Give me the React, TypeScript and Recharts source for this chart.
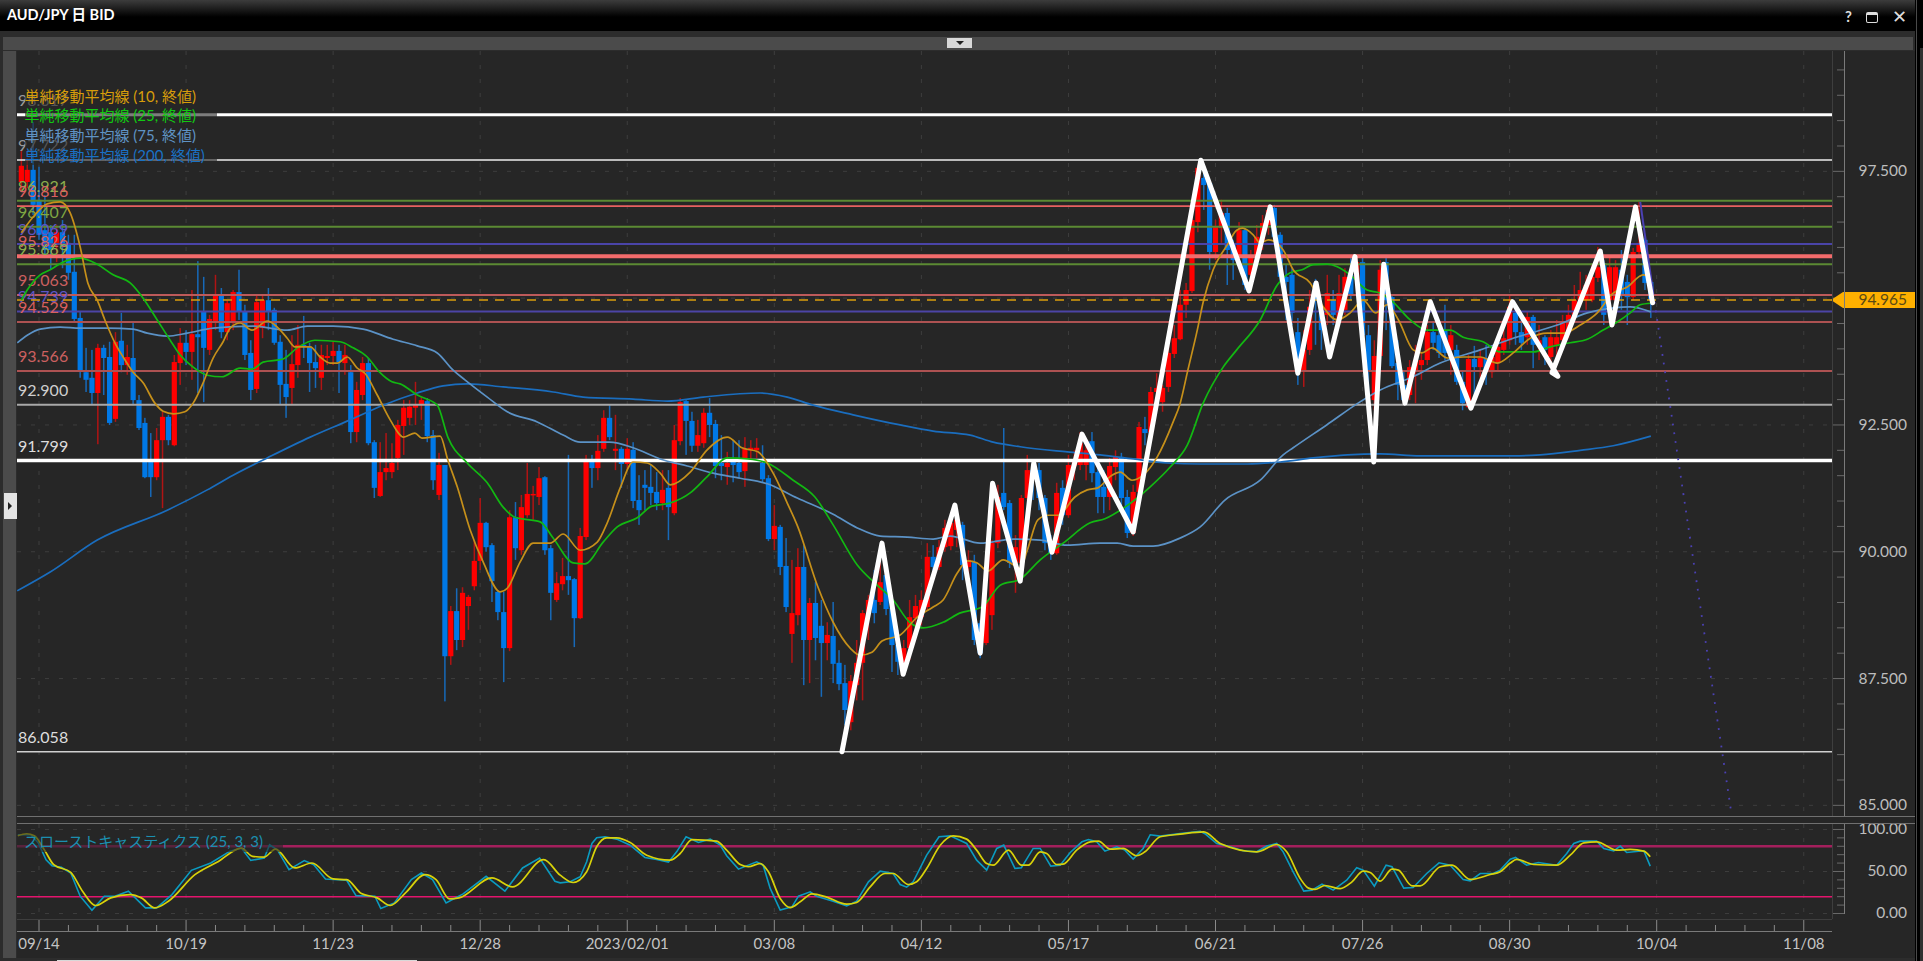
import {
  Bar,
  CartesianGrid,
  ComposedChart,
  Line,
  ReferenceLine,
  XAxis,
  YAxis,
} from 'recharts'

const lastPrice = 94.965

const opens = [
  97.29,97.29,97.53,96.94,96.34,96.30,96.09,96.30,96.09,95.52,
  94.61,93.54,93.43,93.13,94.02,93.84,92.62,94.16,93.68,93.82,
  92.99,92.54,91.81,91.47,92.20,92.66,92.10,93.72,94.12,93.94,
  94.29,94.73,93.98,94.53,95.06,94.33,94.53,95.12,94.73,93.92,
  93.21,94.41,94.96,94.77,94.14,93.31,93.23,93.68,94.08,94.04,
  93.74,93.43,93.82,93.86,93.96,93.72,93.54,92.36,93.09,93.72,
  92.16,91.10,91.57,91.57,91.85,92.48,92.64,92.84,92.91,92.97,
  92.30,91.12,91.71,87.94,88.83,88.26,88.93,89.32,89.82,90.57,
  90.13,89.21,88.81,88.10,90.68,90.03,90.72,91.12,91.08,91.47,
  90.07,89.05,89.36,89.52,89.46,88.69,90.29,91.77,91.65,92.03,
  92.64,91.99,92.03,91.73,92.01,91.02,91.32,91.28,91.18,90.96,
  91.26,90.76,92.18,92.97,92.58,92.09,92.14,92.74,92.52,91.75,
  91.67,91.77,91.75,91.59,92.00,92.00,91.75,91.45,90.25,90.49,
  89.72,88.38,88.75,89.70,88.26,88.99,88.54,88.20,88.34,87.81,
  87.41,86.64,87.37,87.81,88.79,89.05,89.01,89.54,88.89,88.16,
  87.81,88.10,88.69,88.71,88.91,89.90,89.70,90.09,90.11,90.43,
  90.53,89.70,89.80,88.59,88.20,88.75,90.17,91.16,90.96,89.78,
  89.78,91.06,91.61,91.61,91.06,90.17,89.97,91.26,90.72,91.69,
  91.71,91.71,92.18,91.57,91.28,91.08,91.67,91.87,91.08,90.37,
  91.18,92.42,92.36,93.15,92.95,93.25,93.90,94.19,94.87,95.14,
  96.50,97.37,97.27,95.91,96.38,96.68,96.09,95.81,96.34,95.46,
  95.81,96.15,96.44,96.78,96.25,95.42,95.46,94.33,93.58,93.98,
  95.30,94.71,94.67,94.96,94.57,94.77,95.46,95.36,95.71,94.27,
  92.99,93.86,95.71,95.02,93.72,93.29,93.09,93.58,93.68,93.78,
  94.33,94.27,94.37,93.98,93.98,93.35,92.85,93.80,93.64,93.82,
  93.54,93.72,93.98,94.17,94.71,94.33,94.23,94.63,94.08,94.23,
  93.84,94.08,94.17,94.33,94.67,94.96,94.96,94.96,95.40,95.69,
  94.96,94.96,95.56,95.32,95.02,95.91,96.15,95.32,
]
const closes = [
  97.61,97.53,96.84,96.25,95.95,95.95,96.30,96.01,95.50,94.59,
  93.58,93.39,93.13,94.02,93.82,92.54,94.14,93.68,93.84,92.99,
  92.44,91.47,91.47,92.20,92.66,92.20,93.74,94.12,93.94,94.29,
  94.23,94.02,94.59,95.06,94.33,94.90,95.12,94.73,93.88,93.19,
  94.92,94.96,94.73,94.12,93.29,93.05,93.70,94.08,94.04,93.72,
  93.62,93.88,93.86,93.96,93.74,93.88,92.36,93.19,93.72,92.14,
  91.26,91.57,91.65,91.75,92.50,92.84,92.86,92.91,92.99,92.28,
  91.41,91.71,87.94,88.83,88.26,89.19,89.11,89.82,90.57,90.09,
  89.42,88.81,88.10,90.68,90.07,90.88,91.14,91.14,91.45,90.03,
  89.19,89.38,89.52,89.44,88.69,90.31,91.77,91.65,91.99,92.64,
  92.26,92.03,91.73,92.03,91.00,90.82,91.26,91.16,90.96,91.22,
  90.88,92.20,92.95,92.58,92.09,92.30,92.74,92.50,91.69,91.69,
  91.75,91.71,91.57,92.03,92.05,92.05,91.43,90.25,90.51,89.70,
  88.91,88.79,89.70,88.26,88.99,88.30,88.20,88.36,87.79,87.39,
  86.88,87.45,87.81,88.79,89.05,88.79,89.40,88.87,88.16,87.83,
  88.10,88.71,88.93,89.05,89.90,89.70,90.09,90.47,90.57,90.63,
  89.74,89.84,88.26,88.00,89.05,90.17,91.08,90.88,89.78,90.09,
  91.06,91.61,91.51,91.06,90.17,89.97,91.16,90.72,91.71,91.81,
  92.14,92.00,91.55,91.08,91.08,91.69,91.87,91.06,90.37,91.18,
  92.46,92.34,93.15,93.23,93.23,93.92,94.21,94.87,95.16,96.54,
  97.57,97.23,95.91,96.40,96.68,95.95,95.75,96.34,95.26,95.81,
  96.21,96.48,96.74,96.21,95.42,95.32,94.71,93.64,93.98,94.83,
  94.96,94.37,95.10,94.67,95.10,95.42,95.06,95.71,94.27,93.58,
  93.86,95.56,94.96,93.66,93.29,92.99,93.64,93.78,93.78,94.33,
  94.12,93.92,93.92,94.27,93.35,92.93,93.80,93.64,93.82,93.58,
  93.84,94.04,94.21,94.83,94.33,94.12,94.63,94.08,94.17,93.98,
  94.23,94.23,94.51,94.67,94.96,95.16,95.26,95.42,95.61,94.67,
  95.61,95.61,95.06,95.02,95.91,96.09,95.30,94.965,
]
const highs = [
  97.92,97.76,98.47,97.59,97.03,96.44,96.44,96.54,96.25,96.25,
  94.73,94.02,93.98,94.10,94.08,94.14,94.33,94.71,94.08,94.51,
  93.09,92.64,92.34,92.44,92.76,92.70,93.88,94.41,94.37,95.16,
  95.73,95.42,94.67,95.46,95.20,94.96,95.16,95.56,94.87,94.17,
  95.06,95.06,95.20,94.81,94.27,93.98,94.27,94.47,94.65,94.12,
  94.08,94.08,94.08,94.14,94.08,94.08,93.68,93.35,93.84,93.82,
  92.20,92.16,92.34,92.14,92.60,92.99,92.99,93.35,93.05,93.03,
  92.40,91.95,91.71,88.93,89.28,89.30,89.15,90.23,91.06,90.59,
  90.17,89.24,89.21,90.82,90.98,91.12,91.75,91.30,91.67,91.49,
  90.13,89.60,89.88,91.91,89.48,90.47,91.91,91.91,92.30,92.79,
  92.89,92.70,92.07,92.24,92.16,91.51,91.61,91.71,91.57,91.61,
  91.61,92.50,93.03,92.99,92.76,92.60,92.83,93.03,92.60,92.30,
  91.97,92.20,92.20,92.26,92.20,92.24,92.10,91.51,90.92,90.53,
  90.27,89.84,90.07,90.13,89.09,89.40,89.05,88.61,89.01,88.06,
  87.77,87.57,88.26,88.85,89.15,89.64,89.84,89.84,88.95,88.46,
  88.26,89.05,89.15,89.24,90.17,90.13,90.23,90.63,90.78,90.82,
  90.59,90.03,89.94,88.65,89.15,90.23,91.32,92.44,91.02,90.33,
  91.12,91.91,91.81,91.75,91.12,90.33,91.36,91.41,91.91,92.00,
  92.36,92.20,92.36,91.71,91.61,91.85,92.00,91.95,91.22,91.32,
  92.56,92.66,93.25,93.52,93.29,94.08,94.47,95.16,95.30,96.64,
  97.63,97.63,97.33,96.54,96.94,96.78,96.15,96.50,96.38,95.95,
  96.44,96.64,96.84,96.84,96.30,95.66,95.59,94.61,94.37,95.16,
  95.38,94.77,95.46,95.16,95.46,95.59,95.79,95.83,95.79,94.47,
  94.17,95.75,95.79,95.06,94.17,93.58,93.78,94.08,93.94,94.47,
  94.53,94.57,94.87,94.47,94.08,93.58,93.88,94.06,93.98,94.08,
  93.98,94.17,94.37,95.06,94.87,94.57,94.73,94.67,94.47,94.27,
  94.37,94.57,94.67,94.87,95.26,95.52,95.46,95.66,96.01,95.75,
  95.85,95.75,95.95,95.46,95.99,96.90,96.19,95.36,
]
const lows = [
  97.13,97.17,96.64,96.15,95.79,95.56,95.71,95.59,95.36,94.53,
  93.43,93.15,92.91,92.12,93.09,92.50,92.56,93.54,93.49,92.89,
  92.40,91.45,91.08,91.41,90.86,92.10,92.08,93.29,93.68,93.39,
  93.13,92.95,93.88,94.37,94.21,94.17,94.37,94.57,93.78,92.99,
  93.13,94.21,94.37,94.08,92.91,92.64,92.91,93.43,93.82,93.15,
  93.23,93.19,93.68,93.68,93.13,93.49,92.14,92.16,92.99,92.10,
  91.06,91.08,91.41,91.45,91.61,91.91,92.50,92.50,92.60,92.16,
  91.22,91.02,87.05,87.77,88.06,88.12,88.46,89.24,89.64,90.00,
  89.01,88.65,87.43,88.04,89.84,89.94,90.67,90.63,90.92,89.94,
  88.65,89.01,89.24,89.15,88.12,88.67,90.23,91.26,91.41,91.97,
  92.20,91.61,91.26,91.61,90.86,90.53,90.82,90.92,90.82,90.82,
  90.23,90.72,92.10,91.91,91.97,91.97,92.05,92.26,91.45,91.41,
  91.32,91.37,91.45,91.28,91.81,91.85,91.37,90.21,90.03,89.54,
  88.81,87.81,88.55,87.37,87.41,87.86,87.14,87.86,87.41,87.27,
  86.58,86.48,87.07,87.07,88.26,88.59,88.95,88.75,87.63,87.57,
  87.63,87.86,88.46,88.55,88.85,89.54,89.64,90.00,90.03,90.09,
  89.44,89.44,88.16,87.90,88.16,88.46,90.07,90.82,89.68,89.19,
  89.74,91.02,91.02,90.82,90.03,89.84,89.94,90.53,90.67,91.41,
  91.61,91.41,91.37,90.76,90.76,90.82,91.41,90.92,90.27,90.31,
  91.12,92.10,92.30,92.99,92.76,93.15,93.82,94.17,94.61,95.10,
  96.30,96.74,95.56,95.75,96.09,95.26,95.36,95.75,95.16,95.30,
  95.75,95.95,96.25,96.15,95.32,94.57,94.47,93.29,93.25,93.88,
  94.08,93.98,94.47,94.47,94.53,94.67,94.96,95.06,94.21,92.99,
  92.79,93.78,94.37,93.62,92.99,92.95,92.99,92.93,93.39,93.68,
  93.98,93.82,93.78,93.49,93.29,92.79,92.83,93.09,93.43,93.29,
  93.43,93.58,93.88,94.08,94.08,93.98,94.08,93.62,93.78,93.68,
  93.68,93.74,94.08,94.21,94.57,94.87,94.77,94.92,95.32,94.47,
  94.87,94.90,94.77,94.47,94.96,95.85,95.16,94.61,
]

const ma10Bars = [
  0,2,4.4,6.6,8.3,10,11.3,12.9,14.2,15.9,17.3,19,20.7,22.7,24.1,25.9,27.8,29.2,30.9,32.6,34.3,35.5,37.2,39.2,41.8,43.5,
  45.2,46.5,49.1,50.8,52.5,53.7,55.4,57.1,58.4,60.5,62.7,65,66.9,68.1,71.2,72.5,74.1,76.3,78.5,81.4,82.6,84.8,87,89.9,
  92.1,95,97.9,99.6,101.8,104,106.4,108.6,110.3,113.7,116.5,120,122.5,125.2,127.8,130.2,132,135.3,138,140.9,142.6,144.6,
  146.3,149.4,152.3,155,156.7,159.1,160.9,162.5,164.3,166.9,169.8,171,172.8,174.5,176.2,179.1,181.2,183,185.4,186.8,
  188.8,190.7,193.1,195.8,197,198.3,199.9,200.9,202.6,205,206.6,207.6,209.4,210.6,212,214.5,216.2,219.1,221.3,223.7,
  225.9,228.1,230.2,232.2,234.1,236.6,238.1,239.8,242.4,245.1,248,250.9,253.6,256.5,259.4,262.1,265,267.9,270.6,273,275.7,277,
]
const ma10 = [
  96.29,96.60,96.86,96.90,96.68,96.01,95.30,94.96,94.57,94.12,93.84,93.54,93.33,92.93,92.77,92.72,92.76,92.93,93.33,93.82,94.14,94.41,94.51,94.37,94.55,94.43,
  94.21,94.04,94.04,93.84,93.72,93.72,93.84,93.62,93.52,93.09,92.60,92.26,92.34,92.24,92.28,91.81,91.28,90.43,89.80,89.21,89.28,89.80,90.17,90.17,
  90.35,90.03,90.19,90.57,91.26,91.77,91.75,91.55,91.32,91.57,92.00,92.26,92.05,91.97,91.55,90.96,90.49,89.34,88.61,88.10,87.96,88.02,
  88.24,88.36,88.71,88.91,89.05,89.58,89.82,89.78,89.62,89.84,89.68,90.03,90.63,90.72,90.72,91.08,91.22,91.26,91.51,91.57,
  91.41,91.51,91.87,92.56,92.93,93.58,94.37,94.92,95.56,96.05,96.34,96.38,96.25,96.09,96.15,95.95,95.56,95.30,94.83,94.57,
  94.71,94.96,94.71,94.87,94.57,93.98,93.92,94.02,93.82,93.84,93.84,93.72,93.92,94.21,94.31,94.31,94.47,94.71,95.10,95.22,95.46,95.42,
]
const ma25Bars = [
  0,1,3.2,4.9,7.1,10,12.9,15.6,18.5,20.7,23.1,25.3,27,29.2,31.6,34.1,37.2,39.2,41.1,44.5,46.9,49.9,54.2,56.4,58.8,60.9,63,
  64.4,67.3,70.7,72.5,75.8,79.2,81.9,83.9,88.2,90.4,93.8,95.8,98.9,101.3,104.7,107.2,110.3,113.7,116.5,120,123.5,126.8,131.2,
  134.9,138,142.1,145.1,148.2,151,153.3,156.7,159.5,163.3,166.4,169.8,173.2,177.1,181.7,184.2,187.6,191.9,195.3,198.2,200.9,
  204.3,206.6,210.6,213.5,215.7,217.7,219.6,222,223.7,225.9,228.8,231,233.2,236.1,239,242.9,245.1,248.5,251.4,254.3,257,
  259.9,263.3,266.2,268.9,271.3,273.5,275.2,277,
]
const ma25 = [
  94.96,95.16,95.46,95.56,95.71,95.79,95.67,95.46,95.30,95.00,94.57,94.17,93.88,93.64,93.48,93.45,93.62,93.60,93.74,93.80,94.02,94.17,94.14,94.02,93.84,93.54,93.35,
  93.31,93.09,92.89,92.26,91.75,91.36,90.88,90.68,90.59,90.27,89.78,89.76,90.19,90.49,90.67,90.90,90.96,91.16,91.47,91.85,91.83,91.75,91.41,
  91.08,90.53,89.74,89.38,89.05,88.61,88.50,88.61,88.79,88.91,89.34,89.46,89.84,90.17,90.57,90.65,90.88,91.28,91.67,92.10,92.93,
  93.64,93.98,94.57,95.26,95.50,95.56,95.66,95.67,95.62,95.46,95.16,95.10,94.92,94.57,94.37,94.37,94.23,94.14,93.94,93.94,93.94,
  94.04,94.12,94.19,94.37,94.53,94.71,94.87,94.90,
]
const ma75Bars = [
  -0.7,1,3.2,6.6,10,14.6,19,21.4,24.8,28.2,32.6,39.4,45.2,48.6,53,58.1,63.2,67.3,70.7,73.4,75.4,79.2,82.6,87.7,92.1,95,100,104,
  108.6,113.2,117.6,122.2,126.8,131.9,138,142.1,146,150.6,155,157.9,163,168.6,173.2,177.8,183.4,186.3,189,192.4,197,200.4,204.6,
  210.6,214.5,216.2,221.9,227.5,231,236.6,241.2,248,253.6,261.1,266.2,270.6,273.5,277,
]
const ma75 = [
  94.12,94.27,94.39,94.43,94.41,94.41,94.39,94.31,94.25,94.31,94.41,94.45,94.37,94.45,94.45,94.39,94.19,94.06,93.92,93.58,93.39,93.05,92.76,92.56,92.30,92.16,92.16,92.05,
  91.83,91.69,91.55,91.45,91.34,91.06,90.74,90.47,90.31,90.29,90.25,90.31,90.17,90.25,90.23,90.13,90.17,90.17,90.11,90.11,90.27,90.49,91.02,
  91.41,91.91,92.05,92.50,92.95,93.19,93.45,93.72,93.98,94.21,94.47,94.71,94.81,94.83,94.73,
]
const ma200Bars = [
  -0.7,4.9,12.9,24.8,31.6,36,41.8,49.1,55.9,61.5,67.3,71.7,75.8,81.9,90.4,95.5,104,109.8,115.9,125.6,130.2,134.6,141.4,149.4,155,161.3,
  165.2,169.8,177.8,183.4,189,194.8,200.4,208.4,214,219.6,225.4,231,237.8,253.6,258.2,265,270.6,277,
]
const ma200 = [
  89.23,89.60,90.23,90.82,91.22,91.51,91.85,92.26,92.60,92.89,93.13,93.27,93.31,93.25,93.15,93.05,93.01,92.97,93.05,93.13,93.05,92.89,92.70,92.50,92.38,92.30,
  92.16,92.07,91.97,91.91,91.83,91.75,91.73,91.73,91.77,91.85,91.91,91.93,91.89,91.89,91.91,92.00,92.09,92.28,
]

const zigzagBars = [
  139.5,146.3,149.9,158.7,163,165.1,169.8,172.1,175.2,180.3,189,200.5,208.7,212.3,217,220.1,222.4,226.7,229.9,231.6,235.2,239.5,246.4,253.5,261.2,260.2,268.4,270.4,274.4,277.3,
]
const zigzag = [
  86.058,90.17,87.585,90.92,88,91.35,89.42,91.75,89.99,92.32,90.39,97.72,95.145,96.8,93.52,95.3,93.84,95.82,91.77,95.67,92.93,94.93,92.83,94.93,93.46,93.53,95.93,94.47,96.8,94.91,
]
const trendBars = [275.2, 277.4]
const trend = [96.9, 95.1]
const forecastBars = [277.4, 290.6]
const forecast = [95.1, 84.92]

const stochKBars = [
  -0.6,1.6,2.9,4.2,5.2,6.8,8.4,10,12,14.1,15.9,18.2,21.1,23,25.6,28.9,32.2,35.4,37.4,39,41.3,42.2,43.5,45.5,48.1,49.7,51.7,55.3,56.9,60.1,61.1,63.4,66.3,68,69.9,72.2,75.1,79,82.2,85.2,88.1,90.7,
  91.6,93.3,95,96.1,97,97.8,99.2,101.2,103.5,106,108,110,111.4,113,115.1,117.1,118.8,119.9,121.9,125,126.1,127.3,129,131,132.1,134.1,135.2,138,140.3,142,144,146,148.2,149.4,150.5,151.6,153.9,156,157.9,160.7,162.4,164.1,165.8,167,168.9,170,172,173.2,175,
  176.6,178.3,180.3,181.4,182.8,184.2,186.2,187.6,189,190.7,191.9,193.6,197,200.4,201.2,203.2,205.5,207.7,210,211.7,213.4,214.5,216.2,218,219.4,221.1,223,225.3,227,228.1,230,232,233,235,236.6,238.9,241,242.9,245.1,246.3,248,250.2,251.4,
  253.1,254,255.9,257.9,261,262.7,263.9,265,267.8,269,270.7,271.8,272.9,275.8,276.9,
]
const stochK = [
  93.7,93.7,83.8,64,56.9,55,48.2,20.6,3.95,20.6,20.6,26.5,6.7,6.7,22.5,51.4,60.1,73.9,77.9,63.2,66,81.8,75.9,52.2,62.9,58.1,41.1,39.5,21.3,20.6,5.9,12.6,40.3,48.2,40.3,12.6,23.3,44.3,26.5,54.2,66,38.3,
  36.5,37.7,43.7,61.5,83.3,90.1,91.3,88.5,81.3,66.7,64.3,61.1,73.4,91.3,84.5,88.5,81.3,68.7,52.8,61.5,57.5,29.8,4,7.9,20.6,25.8,20.6,14.7,9.1,14.7,37.7,50.4,47.6,34.5,31.3,37.7,69.4,91.3,92.4,83.3,63.5,51.6,77.4,81.3,53.6,54.4,77.4,77.4,56.4,
  57.5,72.6,85.3,88,85.3,74.2,79.4,75.4,64.7,77.4,93.7,92.1,95,97.8,95,83.3,79.4,74.6,73.4,80.2,83.3,73.4,49.6,26.6,27.8,34.9,27.8,39.7,54.4,51.6,32.5,57.5,55.6,30.2,31,47.6,60.3,57.5,40.5,38.9,47.6,47.6,51.6,
  64.7,66.7,57.5,60.7,57.5,71.4,83.3,86.1,86.1,77.4,74.6,80.2,72.6,74.6,56.4,
]
const stochDBars = [
  -0.6,0.9,2.2,3.9,5.5,8.4,10.4,12.6,15.2,18.5,20.4,22.7,25,29.5,33.5,37.4,39.3,41.3,43.2,46.5,49.4,53,55.3,57.8,60.5,62.7,65.3,68.6,70.5,72.8,74.4,80,83.5,88.8,
  91.6,93.8,96.1,97.8,99.5,101.2,103.5,106.3,110.3,112,114,118.2,119.9,122.2,123.6,125.6,127,129,130.7,132.4,134.4,136.9,140.3,142,144.3,146.8,148.2,150.8,152.2,153.9,156.2,158.4,160.7,162.4,164.1,165.2,167.8,170,171.2,173.2,174.3,176,
  177.1,179.4,181.7,183.1,185.1,187.3,189.6,191,193.6,197,201,203.8,210,213.4,215.1,217.4,218.8,219.9,221.6,224.2,226.2,228.1,229.3,231,233,234.1,236.4,237.8,241.2,243.2,246.3,249.7,251.4,
  253.1,254.2,257.1,261,263.3,265.6,267.8,271.2,273.5,275.8,276.9,
]
const stochD = [
  92.5,94.9,92.5,75.9,58.1,49,26.5,9.5,18.6,22.5,18.6,6.7,14.6,46.2,62,77.9,68,67.2,76.7,54.2,60.1,41.1,40.3,23.7,18.6,9.5,24.5,46.2,40.3,17.4,18.6,42.3,31.6,64,
  45.6,36.9,49.6,79.4,90.1,90.1,84.5,69.4,63.5,71.4,88,86.1,75.4,58.3,55.6,59.5,49.6,17.9,7.1,13.9,23.4,19.4,11.1,13.1,31.7,47.6,47.6,34.5,37.7,53.6,81.3,92.4,88.5,75.4,59.5,57.5,75.4,57.5,57.5,73.4,71.4,58.3,
  58.7,75.4,85.3,86.1,76.6,77.4,68.7,73.4,91.3,94.4,97.2,83.3,73.4,82.1,73.4,41.7,30.2,28.6,33.3,29.6,37.7,50.4,48.8,38.5,52.8,51.6,32.9,32.9,55.6,57.5,40.5,46.4,49.6,
  60,64.3,58.3,57.5,69.4,84.1,85.3,75.4,76.2,74.2,67.5,
]

const levels = [98.617, 97.722, 96.921, 96.816, 96.407, 96.069, 95.826, 95.669, 95.063, 94.739, 94.529, 93.566, 92.9, 91.799, 86.058]
const levelColors = ['#ffffff', '#eeeeee', '#5b8a33', '#e86060', '#5b8a33', '#4a44a8', '#f46c6c', '#5b8a33', '#bd5a5a', '#4c44a6', '#ad5252', '#ad5252', '#a8a8a8', '#ffffff', '#d0d0d0']
const levelLabelColors = ['#9a9a9a', '#9a9a9a', '#8caf4c', '#d9605f', '#7fa843', '#5e55c8', '#d9605f', '#8caf4c', '#cc6060', '#5e55c8', '#d9605f', '#cc6060', '#cfcfcf', '#dddddd', '#dddddd']
const levelWidths = [3, 1.5, 2, 1.8, 2, 2, 4, 2, 2, 2, 2, 2, 2, 3.5, 1.5]

const dateTicks = ['09/14', '10/19', '11/23', '12/28', '2023/02/01', '03/08', '04/12', '05/17', '06/21', '07/26', '08/30', '10/04', '11/08']
const legendRows = ['単純移動平均線 (10, 終値)', '単純移動平均線 (25, 終値)', '単純移動平均線 (75, 終値)', '単純移動平均線 (200, 終値)']
const legendColors = ['#d79d0a', '#12c812', '#5f93c4', '#1a71c4']

const priceTicks = [85, 85.5, 86, 86.5, 87, 87.5, 88, 88.5, 89, 89.5, 90, 90.5, 91, 91.5, 92, 92.5, 93, 93.5, 94, 94.5, 95, 95.5, 96, 96.5, 97, 97.5, 98, 98.5, 99, 99.5]
const priceLabels = [85, 87.5, 90, 92.5, 95, 97.5]
const stochTicks = [0, 10, 20, 30, 40, 50, 60, 70, 80, 90, 100]
const stochLabels = [0, 50, 100]
const barTicks = Array.from({ length: 61 }, (_, i) => 3 + i * 5)

const FONT = 'Lato, "Noto Sans CJK JP", sans-serif'
const BG = '#262626'
const BAR_DOMAIN: [number, number] = [-0.74, 307.8]
const PLOT_W = 1815
const BODY_W = 5.2

const candles = opens.map((open, i) => ({
  bar: i,
  open,
  close: closes[i],
  high: highs[i],
  low: lows[i],
  range: [lows[i], highs[i]],
}))

const points = (bars: number[], values: number[]) => bars.map((bar, i) => ({ bar, value: values[i] }))

const majorBars = dateTicks.map((_, i) => 3 + i * 25)

function Candle(props: any) {
  const { x, y, width, height, payload } = props
  const { open, close, high, low } = payload
  const up = close >= open
  const perUnit = height / (high - low || 1)
  const top = y + (high - Math.max(open, close)) * perUnit
  const bodyH = Math.max(Math.abs(close - open) * perUnit, 1.5)
  const cx = x + width / 2
  return (
    <g>
      <rect x={cx - 0.75} y={y} width={1.5} height={height} fill={up ? '#b01414' : '#1769b8'} />
      <rect x={cx - BODY_W / 2} y={top} width={BODY_W} height={bodyH} fill={up ? '#ff0000' : '#0078e6'} />
    </g>
  )
}

function LevelLabel(props: any) {
  const { viewBox, value, fill } = props
  return (
    <text x={viewBox.x + 1} y={viewBox.y - 9} fontFamily={FONT} fontSize={16} fill={fill}>{value}</text>
  )
}

function PriceTick(props: any) {
  const { y, payload } = props
  const v = payload.value
  if (v === lastPrice) {
    const left = PLOT_W
    return (
      <g>
        <polygon points={`${left - 1},${y} ${left + 11},${y - 8} ${left + 83},${y - 8} ${left + 83},${y + 8} ${left + 11},${y + 8}`} fill="#ffb000" />
        <text x={left + 75} y={y + 5} textAnchor="end" fontFamily={FONT} fontSize={15.5} fill="#5a4a14">{v.toFixed(3)}</text>
      </g>
    )
  }
  const major = priceLabels.includes(v)
  return (
    <g>
      <line x1={PLOT_W + (major ? 0 : 5)} x2={PLOT_W + 12} y1={y} y2={y} stroke="#6a6a6a" />
      {major && (
        <text x={PLOT_W + 75} y={y + 5} textAnchor="end" fontFamily={FONT} fontSize={15.5} fill="#bdbdbd">{v.toFixed(3)}</text>
      )}
    </g>
  )
}

function StochTick(props: any) {
  const { y, payload } = props
  const v = payload.value
  const major = stochLabels.includes(v)
  return (
    <g>
      <line x1={PLOT_W + (major ? 0 : 5)} x2={PLOT_W + 12} y1={y} y2={y} stroke="#6a6a6a" />
      {major && (
        <text x={PLOT_W + 75} y={y + 5} textAnchor="end" fontFamily={FONT} fontSize={15.5} fill="#bdbdbd">{v.toFixed(2)}</text>
      )}
    </g>
  )
}

function DateTick(props: any) {
  const { x, payload } = props
  const i = majorBars.indexOf(payload.value)
  const axisY = 107
  return (
    <g>
      <line x1={x} x2={x} y1={axisY - (i >= 0 ? 12 : 6)} y2={axisY} stroke="#8a8a8a" />
      {i >= 0 && (
        <text x={x} y={axisY + 18} textAnchor="middle" fontFamily={FONT} fontSize={15} fill="#c4c4c4">{dateTicks[i]}</text>
      )}
    </g>
  )
}

function Box(props: { l: number; t: number; w: number; h: number; bg: string }) {
  return <div style={{ position: 'absolute', left: props.l, top: props.t, width: props.w, height: props.h, background: props.bg }} />
}

export default function App() {
  return (
    <div style={{ position: 'absolute', left: 0, top: 0, width: 1923, height: 961, overflow: 'hidden', background: '#000', fontFamily: FONT }}>
      <div style={{ position: 'absolute', left: 0, top: 0, width: 1915, height: 31, background: 'linear-gradient(#3c3c3c 0, #000 17px)' }} />
      <div style={{ position: 'absolute', left: 7, top: 6, color: '#fff', fontSize: 14.5, fontWeight: 700, lineHeight: '18px' }}>AUD/JPY 日 BID</div>
      <div style={{ position: 'absolute', left: 1845, top: 7, color: '#ddd', fontSize: 15, fontWeight: 700, lineHeight: '18px' }}>?</div>
      <div style={{ position: 'absolute', left: 1866, top: 12, width: 10, height: 7, border: '1.5px solid #ddd', borderTopWidth: 3, borderRadius: 2 }} />
      <div style={{ position: 'absolute', left: 1892, top: 4, color: '#ddd', fontSize: 18, lineHeight: '24px' }}>✕</div>

      <Box l={0} t={31} w={1915} h={930} bg="#2c2c2c" />
      <Box l={1916} t={0} w={1} h={961} bg="#4a4a4a" />
      <Box l={1920} t={48} w={3} h={913} bg="#303030" />
      <Box l={57} t={960} w={360} h={1} bg="#d8d8d8" />
      <Box l={3} t={37} w={1910} h={13} bg="#4b4b4b" />
      <Box l={947} t={38} w={25} h={10} bg="#d8d8d8" />
      <div style={{ position: 'absolute', left: 956, top: 41, width: 0, height: 0, borderLeft: '4px solid transparent', borderRight: '4px solid transparent', borderTop: '4px solid #222' }} />
      <Box l={3} t={51} w={13} h={907} bg="#4b4b4b" />
      <Box l={4} t={493} w={13} h={26} bg="#e4e4e4" />
      <div style={{ position: 'absolute', left: 8, top: 502, width: 0, height: 0, borderTop: '4px solid transparent', borderBottom: '4px solid transparent', borderLeft: '4px solid #222' }} />
      <Box l={17} t={51} w={1898} h={907} bg={BG} />

      <div style={{ position: 'absolute', left: 17, top: 51 }}>
        <ComposedChart width={1898} height={765} data={candles} margin={{ top: 0, right: 0, bottom: 0, left: 0 }}>
          <CartesianGrid stroke="#3e3e3e" strokeDasharray="4 10" horizontalValues={priceLabels} verticalValues={majorBars} />
          <XAxis dataKey="bar" type="number" domain={BAR_DOMAIN} hide allowDataOverflow />
          <YAxis orientation="right" width={83} domain={[84.79, 99.873]} ticks={[...priceTicks, lastPrice]} interval={0} axisLine={false} tickLine={false} tick={<PriceTick />} allowDataOverflow />
          <Bar dataKey="range" shape={<Candle />} isAnimationActive={false} />
          {levels.map((v, i) => (
            <ReferenceLine
              key={v}
              y={v}
              stroke={levelColors[i]}
              strokeWidth={levelWidths[i]}
              label={<LevelLabel value={v.toFixed(3)} fill={levelLabelColors[i]} />}
            />
          ))}
          <ReferenceLine y={lastPrice} stroke="#dc9f0c" strokeWidth={1.5} strokeDasharray="9 7" />
          <Line data={points(ma200Bars, ma200)} dataKey="value" type="monotone" stroke="#1a6dbe" strokeWidth={1.7} dot={false} isAnimationActive={false} />
          <Line data={points(ma75Bars, ma75)} dataKey="value" type="monotone" stroke="#5b92c6" strokeWidth={1.7} dot={false} isAnimationActive={false} />
          <Line data={points(ma25Bars, ma25)} dataKey="value" type="monotone" stroke="#12b812" strokeWidth={1.7} dot={false} isAnimationActive={false} />
          <Line data={points(ma10Bars, ma10)} dataKey="value" type="monotone" stroke="#c6901a" strokeWidth={1.7} dot={false} isAnimationActive={false} />
          <Line data={points(forecastBars, forecast)} dataKey="value" stroke="#4b41b4" strokeWidth={1.8} strokeDasharray="1.8 7" dot={false} isAnimationActive={false} />
          <Line data={points(trendBars, trend)} dataKey="value" stroke="#4b41b4" strokeWidth={2} dot={false} isAnimationActive={false} />
          <Line data={points(zigzagBars, zigzag)} dataKey="value" stroke="#ffffff" strokeWidth={5} strokeLinejoin="round" strokeLinecap="round" dot={false} isAnimationActive={false} />
        </ComposedChart>
      </div>

      <div style={{ position: 'absolute', left: 25, top: 87, width: 192, height: 78, background: 'rgba(38,38,38,0.6)' }} />
      {legendRows.map((t, i) => (
        <div key={t} style={{ position: 'absolute', left: 24.5, top: 85.5 + i * 19.7, color: legendColors[i], fontSize: 15, lineHeight: '20px', whiteSpace: 'nowrap' }}>{t}</div>
      ))}

      <Box l={17} t={816} w={1898} h={1} bg="#707070" />
      <Box l={17} t={823} w={1898} h={1} bg="#707070" />

      <div style={{ position: 'absolute', left: 17, top: 824 }}>
        <ComposedChart width={1898} height={134} data={candles} margin={{ top: 0, right: 0, bottom: 0, left: 0 }}>
          <CartesianGrid stroke="#3e3e3e" strokeDasharray="4 10" horizontalValues={stochLabels} verticalValues={majorBars} />
          <XAxis dataKey="bar" type="number" domain={BAR_DOMAIN} height={39} ticks={barTicks} interval={0} axisLine={false} tickLine={false} tick={<DateTick />} allowDataOverflow />
          <YAxis orientation="right" width={83} domain={[-6.55, 106.5]} ticks={stochTicks} interval={0} axisLine={false} tickLine={false} tick={<StochTick />} allowDataOverflow />
          <ReferenceLine y={80} stroke="#a41f5c" strokeWidth={2.5} />
          <ReferenceLine y={20} stroke="#e3146d" strokeWidth={1.5} />
          <Line data={points(stochKBars, stochK)} dataKey="value" stroke="#0b9bc0" strokeWidth={1.6} dot={false} isAnimationActive={false} />
          <Line data={points(stochDBars, stochD)} dataKey="value" type="monotone" stroke="#d8d20a" strokeWidth={1.7} dot={false} isAnimationActive={false} />
        </ComposedChart>
      </div>
      <div style={{ position: 'absolute', left: 17, top: 832, width: 266, height: 20, background: 'rgba(38,38,38,0.6)' }} />
      <div style={{ position: 'absolute', left: 24, top: 831, color: '#1b8fb0', fontSize: 15, lineHeight: '20px', whiteSpace: 'nowrap' }}>スローストキャスティクス (25, 3, 3)</div>

      <Box l={17} t={919} w={1815} h={1} bg="#3e3e3e" />
      <Box l={17} t={931} w={1815} h={1} bg="#7a7a7a" />
      <Box l={1844} t={51} w={1} h={765} bg="#7a7a7a" />
      <Box l={1832} t={51} w={1} h={765} bg="#3e3e3e" />
      <Box l={1844} t={824} w={1} h={90} bg="#7a7a7a" />
      <Box l={1832} t={824} w={1} h={95} bg="#3e3e3e" />
    </div>
  )
}
